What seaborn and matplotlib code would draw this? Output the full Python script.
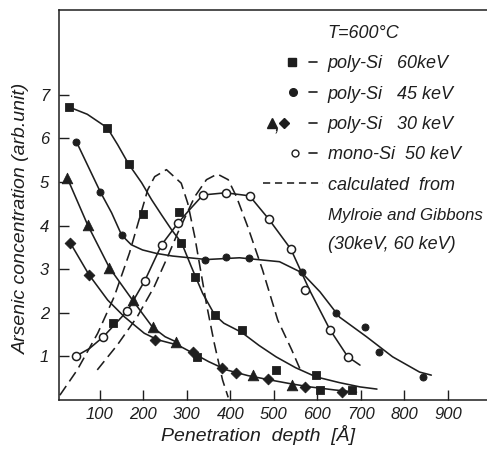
import numpy as np
import pandas as pd
import matplotlib
matplotlib.use("Agg")
import matplotlib.pyplot as plt
import seaborn as sns
from matplotlib.lines import Line2D
from matplotlib.text import Text
from matplotlib.legend_handler import HandlerBase

# ---------------- data ----------------
# measured points
sq60_x = [28, 117, 166, 129, 200, 283, 287, 318, 324, 364, 426, 506, 598, 606, 679]
sq60_y = [6.72, 6.24, 5.41, 1.77, 4.27, 4.32, 3.59, 2.82, 0.99, 1.95, 1.60, 0.69, 0.57, 0.23, 0.23]

dot45_x = [46, 101, 150, 341, 391, 442, 564, 642, 709, 741, 843]
dot45_y = [5.92, 4.77, 3.78, 3.21, 3.28, 3.26, 2.94, 2.00, 1.68, 1.10, 0.53]

tri30_x = [25, 72, 122, 175, 221, 276, 451, 541]
tri30_y = [5.09, 4.01, 3.03, 2.29, 1.67, 1.33, 0.57, 0.34]

dia30_x = [32, 76, 226, 313, 380, 414, 486, 571, 656]
dia30_y = [3.60, 2.87, 1.38, 1.10, 0.73, 0.62, 0.48, 0.30, 0.18]

mono50_x = [44, 108, 163, 203, 242, 279, 337, 389, 444, 488, 539, 571, 629, 670]
mono50_y = [1.00, 1.45, 2.04, 2.73, 3.56, 4.05, 4.70, 4.75, 4.68, 4.15, 3.46, 2.52, 1.61, 0.99]

# hand-drawn solid curves through the data
c60_x = [28, 71, 117, 141, 166, 196, 219, 242, 265, 288, 310, 336, 364, 385, 426, 466, 505, 550, 597, 650, 698, 737]
c60_y = [6.72, 6.55, 6.24, 5.85, 5.41, 4.98, 4.59, 4.24, 3.90, 3.60, 3.06, 2.45, 1.95, 1.76, 1.55, 1.25, 0.99, 0.74, 0.53, 0.40, 0.30, 0.25]

c45_x = [46, 101, 127, 150, 172, 198, 230, 267, 345, 421, 513, 564, 606, 651, 713, 773, 835, 862]
c45_y = [5.92, 4.77, 4.29, 3.78, 3.56, 3.44, 3.36, 3.30, 3.22, 3.26, 3.17, 2.92, 2.48, 1.90, 1.45, 0.99, 0.64, 0.57]

c30tri_x = [25, 72, 122, 175, 221, 250, 276]
c30tri_y = [5.09, 4.01, 3.03, 2.29, 1.67, 1.45, 1.33]

c30dia_x = [32, 75, 118, 156, 202, 233, 279, 313, 350, 391, 440, 491, 540, 583, 640, 690]
c30dia_y = [3.60, 2.87, 2.29, 1.91, 1.53, 1.38, 1.26, 1.08, 0.88, 0.69, 0.56, 0.46, 0.37, 0.30, 0.23, 0.18]

cmono_x = [44, 76, 108, 136, 163, 203, 242, 279, 306, 337, 389, 444, 488, 539, 582, 629, 670, 698]
cmono_y = [1.00, 1.18, 1.45, 1.75, 2.04, 2.73, 3.56, 4.05, 4.36, 4.70, 4.75, 4.68, 4.15, 3.46, 2.52, 1.61, 0.99, 0.80]

# calculated profiles (Mylroie and Gibbons), dashed
calc30_x = [8, 48, 95, 133, 168, 210, 226, 253, 287, 302, 318, 345, 363, 382, 395]
calc30_y = [0.11, 0.69, 1.53, 2.37, 3.37, 4.82, 5.12, 5.28, 4.97, 4.51, 3.75, 2.20, 1.30, 0.46, 0.06]

calc60_x = [94, 140, 186, 225, 256, 279, 318, 345, 370, 395, 414, 440, 474, 509, 541, 564]
calc60_y = [0.69, 1.26, 1.91, 2.60, 3.29, 3.83, 4.66, 5.05, 5.18, 5.05, 4.66, 3.97, 2.98, 1.83, 1.15, 0.62]

x_ticks = [100, 200, 300, 400, 500, 600, 700, 800, 900]
y_ticks = [1, 2, 3, 4, 5, 6, 7]

legend_rows = ["T=600°C", "poly-Si   60keV", "poly-Si   45 keV", "poly-Si   30 keV",
               "mono-Si  50 keV", "calculated  from", "Mylroie and Gibbons", "(30keV, 60 keV)"]

# ---------------- style ----------------
INK = "#1e1e1e"
sns.set_theme(style="ticks")
plt.rcParams["font.family"] = ["Liberation Sans", "DejaVu Sans"]
plt.rcParams["font.style"] = "italic"
plt.rcParams["text.color"] = INK
plt.rcParams["axes.labelcolor"] = INK
plt.rcParams["xtick.color"] = INK
plt.rcParams["ytick.color"] = INK

fig = plt.figure(figsize=(4.87, 4.51), dpi=100)
ax = fig.add_axes([59 / 487, 51 / 451, 428 / 487, 390 / 451])

LW = 1.15
DASH = (0, (7, 3.5))

def curve(xs, ys, ls="-"):
    df = pd.DataFrame({"depth": xs, "conc": ys})
    sns.lineplot(data=df, x="depth", y="conc", ax=ax, estimator=None, sort=False,
                 color=INK, lw=LW, linestyle=ls, zorder=2)

curve(c60_x, c60_y)
curve(c45_x, c45_y)
curve(c30tri_x, c30tri_y)
curve(c30dia_x, c30dia_y)
curve(cmono_x, cmono_y)
curve(calc30_x, calc30_y, DASH)
curve(calc60_x, calc60_y, DASH)

def pts(xs, ys, marker, s, fc=INK, lw=0.6):
    df = pd.DataFrame({"depth": xs, "conc": ys})
    sns.scatterplot(data=df, x="depth", y="conc", ax=ax, marker=marker, s=s,
                    facecolor=fc, edgecolor=INK, linewidth=lw, zorder=4)

pts(sq60_x, sq60_y, "s", 36)
pts(dot45_x, dot45_y, "o", 26)
pts(tri30_x, tri30_y, "^", 58)
pts(dia30_x, dia30_y, "D", 30)
pts(mono50_x, mono50_y, "o", 34, fc="white", lw=1.1)

ax.set_xlim(6, 990)
ax.set_ylim(0, 8.94)
ax.set_xticks(x_ticks)
ax.set_xticklabels([str(v) for v in x_ticks])
ax.set_yticks(y_ticks)
ax.set_yticklabels([str(v) for v in y_ticks])
ax.tick_params(axis="both", direction="in", length=7, width=1.0, labelsize=12)
ax.tick_params(axis="x", pad=5)
ax.tick_params(axis="y", pad=7)
for side in ["left", "bottom", "top"]:
    ax.spines[side].set_visible(True)
    ax.spines[side].set_linewidth(1.1)
    ax.spines[side].set_color(INK)
ax.spines["right"].set_visible(False)

ax.set_xlabel("Penetration  depth  [Å]", fontsize=14)
ax.set_ylabel("Arsenic concentration (arb.unit)", fontsize=14)
ax.xaxis.set_label_coords(0.466, -0.065)
ax.yaxis.set_label_coords(-0.068, 0.465)

# ---------------- legend ----------------
class RowHandler(HandlerBase):
    def __init__(self, marks=(), comma=None, dash=False, dashed=False):
        super().__init__()
        self.marks, self.comma, self.dash, self.dashed = marks, comma, dash, dashed

    def create_artists(self, legend, orig_handle, xdescent, ydescent, width, height, fontsize, trans):
        x0 = -xdescent
        yc = height / 2 - ydescent
        arts = []
        if self.dashed:
            ln = Line2D([x0, x0 + 0.97 * width], [yc, yc], color=INK, lw=LW, linestyle=(0, (4.5, 3)))
            ln.set_transform(trans)
            arts.append(ln)
        for m, fc, ms, xf in self.marks:
            mk = Line2D([x0 + xf * width], [yc], marker=m, ms=ms, mfc=fc, mec=INK, mew=1.0, ls="none")
            mk.set_transform(trans)
            arts.append(mk)
        if self.comma is not None:
            t = Text(x0 + self.comma * width, yc - 0.25 * fontsize, ",", ha="center", va="center",
                     fontsize=fontsize, color=INK)
            t.set_transform(trans)
            arts.append(t)
        if self.dash:
            d = Line2D([x0 + 0.75 * width, x0 + 0.87 * width], [yc, yc], color=INK, lw=1.2)
            d.set_transform(trans)
            arts.append(d)
        if not arts:
            blank = Line2D([], [], color="none")
            blank.set_transform(trans)
            arts.append(blank)
        return arts

handles = [Line2D([], []) for _ in legend_rows]
handlers = [
    RowHandler(),
    RowHandler(marks=[("s", INK, 6.0, 0.47)], dash=True),
    RowHandler(marks=[("o", INK, 5.5, 0.48)], dash=True),
    RowHandler(marks=[("^", INK, 7.0, 0.14), ("D", INK, 5.0, 0.34)], comma=0.235, dash=True),
    RowHandler(marks=[("o", "white", 5.0, 0.52)], dash=True),
    RowHandler(dashed=True),
    RowHandler(),
    RowHandler(),
]
leg = ax.legend(handles, legend_rows, handler_map={h: hd for h, hd in zip(handles, handlers)},
                loc="upper left", bbox_to_anchor=((263 - 59) / 428, (400 - 25) / 390),
                frameon=False, fontsize=13, handlelength=3.43, handletextpad=0.15,
                labelspacing=0.74, borderpad=0, borderaxespad=0)
leg.get_texts()[6].set_fontsize(12.2)

fig.savefig("out.png", dpi=100)
